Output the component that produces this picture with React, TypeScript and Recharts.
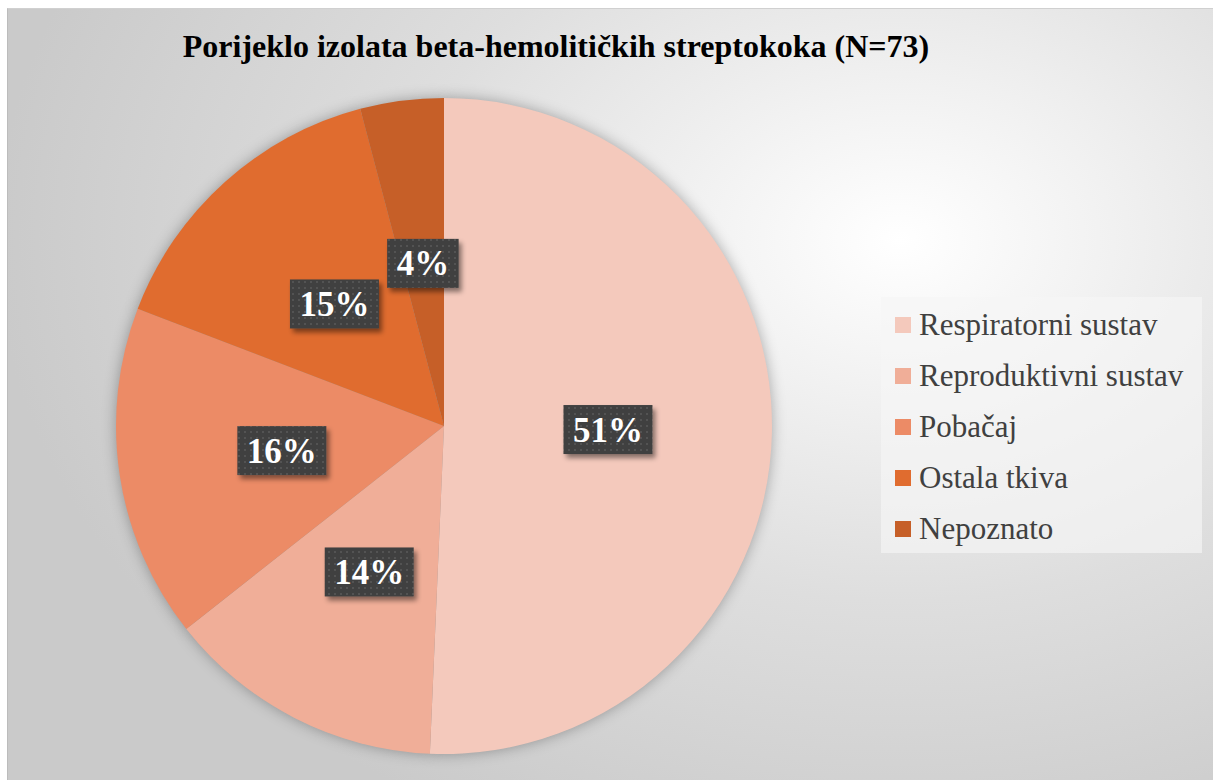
import React from 'react';
import { PieChart, Pie, Cell, Legend } from 'recharts';

const categories = ['Respiratorni sustav', 'Reproduktivni sustav', 'Pobačaj', 'Ostala tkiva', 'Nepoznato'];
const counts = [37, 10, 12, 11, 3];
const colors = ['#F4C9BC', '#F0AE98', '#EC8B66', '#E06C2F', '#C65F28'];

const data = categories.map((name, i) => ({ name, value: counts[i] }));

const SERIF = '"Liberation Serif", "Times New Roman", Times, serif';
const RADIAN = Math.PI / 180;

const renderLabel = (props: any) => {
  const { cx, cy, midAngle, outerRadius, percent } = props;
  const r = outerRadius * 0.5;
  const x = cx + r * Math.cos(-midAngle * RADIAN);
  const y = cy + r * Math.sin(-midAngle * RADIAN);
  const text = `${Math.round(percent * 100)}%`;
  const w = (text.length - 1) * 17.5 + 35 + 19;
  const h = 49;
  return (
    <g>
      <rect
        x={x - w / 2}
        y={y - h / 2}
        width={w}
        height={h}
        fill="url(#dotPattern)"
        filter="url(#boxShadow)"
      />
      <text
        x={x}
        y={y + 12}
        textAnchor="middle"
        fill="#FFFFFF"
        fontFamily={SERIF}
        fontWeight={700}
        fontSize={35}
      >
        {text}
      </text>
    </g>
  );
};

// legend drawn from the category list so the shadow pie doesn't show up in it
const renderLegend = () => (
  <div
    style={{
      width: 321,
      height: 256,
      background: 'rgba(246,246,246,0.65)',
      boxSizing: 'border-box',
      paddingTop: 2,
    }}
  >
    {categories.map((name, i) => (
      <div key={name} style={{ height: 51, display: 'flex', alignItems: 'center', paddingLeft: 14 }}>
        <div style={{ width: 16, height: 16, background: colors[i], marginRight: 8, flexShrink: 0 }} />
        <span style={{ fontFamily: SERIF, fontSize: 31, color: '#404040', lineHeight: '31px', whiteSpace: 'nowrap' }}>
          {name}
        </span>
      </div>
    ))}
  </div>
);

export default function App() {
  return (
    <div
      style={{
        position: 'absolute',
        left: 7,
        top: 8,
        width: 1206,
        height: 772,
        boxSizing: 'border-box',
        borderLeft: '1px solid #bcbcbc',
        borderTop: '1px solid #d0d0d0',
        background:
          'radial-gradient(ellipse 75% 85% at 74% 30%, #ffffff 0%, #f2f2f2 22%, #dedede 55%, #cacaca 100%)',
        overflow: 'hidden',
      }}
    >
      <svg width={0} height={0} style={{ position: 'absolute' }}>
        <defs>
          <pattern id="dotPattern" width={6} height={6} patternUnits="userSpaceOnUse">
            <rect width={6} height={6} fill="#404040" />
            <circle cx={3} cy={3} r={1.1} fill="#575757" />
          </pattern>
          <filter id="boxShadow" x="-20%" y="-20%" width="150%" height="160%">
            <feDropShadow dx={3} dy={4} stdDeviation={2.5} floodColor="#000" floodOpacity={0.45} />
          </filter>
        </defs>
      </svg>
      <style>{`.pie-shadow path { filter: blur(7px); }`}</style>
      <div
        style={{
          position: 'absolute',
          left: 0,
          top: 21,
          width: 1096,
          textAlign: 'center',
          fontFamily: SERIF,
          fontWeight: 700,
          fontSize: 32,
          lineHeight: '32px',
          color: '#000000',
        }}
      >
        Porijeklo izolata beta-hemolitičkih streptokoka (N=73)
      </div>
      <PieChart width={1205} height={771} margin={{ top: 0, right: 0, bottom: 0, left: 0 }}>
        <Pie
          className="pie-shadow"
          data={data}
          dataKey="value"
          nameKey="name"
          cx={436}
          cy={417}
          outerRadius={328}
          startAngle={90}
          endAngle={-270}
          stroke="none"
          isAnimationActive={false}
          legendType="none"
        >
          {data.map((d, i) => (
            <Cell key={i} fill="rgba(0,0,0,0.3)" />
          ))}
        </Pie>
        <Pie
          data={data}
          dataKey="value"
          nameKey="name"
          cx={436}
          cy={417}
          outerRadius={328}
          startAngle={90}
          endAngle={-270}
          stroke="none"
          labelLine={false}
          label={renderLabel}
          isAnimationActive={false}
        >
          {data.map((d, i) => (
            <Cell key={i} fill={colors[i]} />
          ))}
        </Pie>
        <Legend
          content={renderLegend}
          layout="vertical"
          wrapperStyle={{ position: 'absolute', left: 873, top: 288, width: 321, height: 256 }}
        />
      </PieChart>
    </div>
  );
}
